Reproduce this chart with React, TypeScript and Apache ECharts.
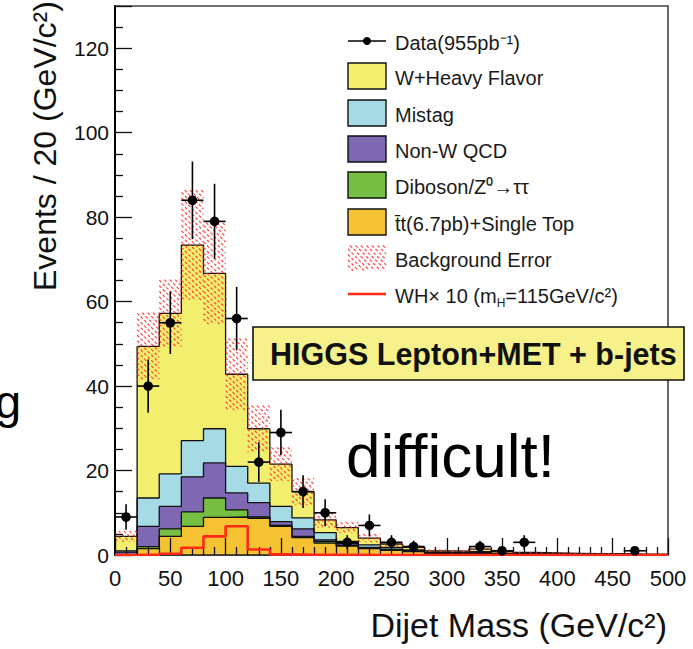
import React, { useEffect, useRef } from 'react';
import * as echarts from 'echarts';

// ---------------- data ----------------
const BIN_WIDTH = 20;
const binStart = [0, 20, 40, 60, 80, 100, 120, 140, 160, 180, 200, 220, 240, 260, 280, 300, 320, 340, 360, 380, 400, 420, 440, 460, 480];

const ttbarSingleTop = [0.05, 1.5, 4.4, 6.8, 8.9, 9.0, 8.7, 6.8, 4.1, 2.8, 2.1, 1.5, 1.1, 0.8, 0.4, 0.35, 0.45, 0.2, 0.18, 0.12, 0.1, 0.06, 0.06, 0.04, 0.04];
const dibosonZtautau = [0.05, 0.5, 1.8, 3.4, 4.6, 1.7, 0.3, 0.2, 0.3, 0.4, 0.2, 0.1, 0.1, 0.05, 0.05, 0.05, 0.05, 0.05, 0.02, 0.03, 0.02, 0.02, 0.02, 0.01, 0.01];
const nonWQCD = [0.6, 4.8, 5.3, 8.3, 8.3, 4.0, 3.4, 0.9, 1.8, 0.4, 0.4, 0.2, 0.2, 0.15, 0.1, 0.1, 0.1, 0.05, 0.05, 0.05, 0.03, 0.02, 0.02, 0.03, 0.03];
const mistag = [0.3, 6.7, 7.7, 8.6, 8.1, 6.3, 4.6, 3.6, 2.6, 1.7, 0.5, 0.6, 0.4, 0.2, 0.15, 0.1, 0.2, 0.1, 0.05, 0.05, 0.05, 0.05, 0.05, 0.02, 0.02];
const wHeavyFlavor = [3.4, 35.9, 38.0, 46.3, 36.8, 21.8, 12.9, 10.0, 6.2, 3.0, 3.3, 1.6, 0.8, 0.6, 0.3, 0.3, 0.6, 0.4, 0.3, 0.25, 0.2, 0.15, 0.15, 0.1, 0.1];
const backgroundError = [1.3, 8, 8, 13, 12, 8.5, 5.5, 4, 3.2, 1.8, 1.3, 1.0, 0.6, 0.45, 0.3, 0.25, 0.3, 0.2, 0.15, 0.12, 0.1, 0.08, 0.08, 0.06, 0.06];
const signalWHx10 = [0, 0.1, 0.3, 1.7, 4.4, 6.8, 1.3, 0.15, 0.05, 0.03, 0.02, 0.01, 0.01, 0, 0, 0, 0, 0, 0, 0, 0, 0, 0, 0, 0];
const dataCounts = [9, 40, 55, 84, 79, 56, 22, 29, 15, 10, 3, 7, 3, 2, 0, 0, 2, 1, 3, 0, 0, 0, 0, 1, 0];
const dataErrors = [3, 6.3, 7.4, 9.2, 8.9, 7.5, 4.7, 5.4, 3.9, 3.2, 1.7, 2.6, 1.7, 1.4, 0, 0, 1.4, 1, 1.7, 0, 0, 0, 0, 1, 0];

const xTickLabels = ['0', '50', '100', '150', '200', '250', '300', '350', '400', '450', '500'];
const yTickLabels = ['0', '20', '40', '60', '80', '100', '120'];

const legendLabels = [
  'Data(955pb⁻¹)',
  'W+Heavy Flavor',
  'Mistag',
  'Non-W QCD',
  'Diboson/Z⁰→ττ',
  't\u0304t(6.7pb)+Single Top',
  'Background Error',
  'WH× 10 (m{sub|H}=115GeV/c²)',
];

// ---------------- styles ----------------
const FONT = "'Liberation Sans', Arial, Helvetica, sans-serif";
const C_WHF = '#f2ee6e';
const C_MISTAG = '#a6dbe5';
const C_QCD = '#7e68b4';
const C_DIB = '#76bf42';
const C_TT = '#f4c232';
const C_HATCH = '#ff3535';
const C_SIGNAL = '#ff2a16';
const HATCH_STYLE = { stroke: C_HATCH, lineWidth: 1.2, lineDash: [3, 2], opacity: 0.9 };

function hatchSegments(x0: number, y0: number, x1: number, y1: number, gap: number) {
  const segs: { x1: number; y1: number; x2: number; y2: number }[] = [];
  if (x1 - x0 < 0.5 || y1 - y0 < 0.5) return segs;
  const cMin = y0 - x1;
  const cMax = y1 - x0;
  for (let k = Math.ceil(cMin / gap); k * gap <= cMax; k++) {
    const c = k * gap;
    const xa = Math.max(x0, y0 - c);
    const xb = Math.min(x1, y1 - c);
    if (xb - xa > 0.4) segs.push({ x1: xa, y1: xa + c, x2: xb, y2: xb + c });
  }
  return segs;
}

export default function App() {
  const ref = useRef<HTMLDivElement>(null);

  useEffect(() => {
    if (!ref.current) return;
    const chart = echarts.init(ref.current, undefined, { renderer: 'svg' });

    const layers = [ttbarSingleTop, dibosonZtautau, nonWQCD, mistag, wHeavyFlavor];
    const layerColors = [C_TT, C_DIB, C_QCD, C_MISTAG, C_WHF];
    const layerNames = ['ttbar+Single Top', 'Diboson', 'Non-W QCD', 'Mistag', 'W+Heavy Flavor'];
    const cum: number[][] = [];
    layers.forEach((arr, k) => {
      cum.push(arr.map((v, i) => v + (k > 0 ? cum[k - 1][i] : 0)));
    });
    const total = cum[cum.length - 1];
    const last = binStart[binStart.length - 1] + BIN_WIDTH;
    const stepData = (arr: number[]) =>
      binStart.map((x, i) => [x, arr[i]]).concat([[last, arr[arr.length - 1]]]);

    const stackSeries: any[] = [];
    for (let k = layers.length - 1; k >= 0; k--) {
      stackSeries.push({
        name: layerNames[k],
        type: 'line',
        step: 'end',
        data: stepData(cum[k]),
        symbol: 'none',
        showSymbol: false,
        silent: true,
        z: 2,
        lineStyle: { color: '#111', width: 1.3 },
        areaStyle: { color: layerColors[k], opacity: 1 },
      });
    }

    const hatchSeries = {
      name: 'Background Error',
      type: 'custom',
      z: 3,
      silent: true,
      data: binStart.map((x, i) => [x, x + BIN_WIDTH, Math.max(0, total[i] - backgroundError[i]), total[i] + backgroundError[i]]),
      renderItem: (params: any, api: any) => {
        const p0 = api.coord([api.value(0), api.value(3)]);
        const p1 = api.coord([api.value(1), api.value(2)]);
        const segs = hatchSegments(p0[0], p0[1], p1[0], p1[1], 5.5);
        return {
          type: 'group',
          children: segs.map((s) => ({ type: 'line', shape: s, style: HATCH_STYLE })),
        };
      },
    };

    const signalSeries = {
      name: 'WH x 10',
      type: 'line',
      step: 'end',
      data: stepData(signalWHx10),
      symbol: 'none',
      silent: true,
      z: 7,
      lineStyle: { color: C_SIGNAL, width: 2.6 },
    };

    const dataSeries = {
      name: 'Data',
      type: 'custom',
      z: 8,
      silent: true,
      data: binStart
        .map((x, i) => [x + BIN_WIDTH / 2, dataCounts[i], dataErrors[i]])
        .filter((d) => d[1] > 0),
      renderItem: (params: any, api: any) => {
        const x = api.value(0);
        const y = api.value(1);
        const e = api.value(2);
        const c = api.coord([x, y]);
        const top = api.coord([x, y + e]);
        const bot = api.coord([x, Math.max(0, y - e)]);
        const l = api.coord([x - BIN_WIDTH / 2, y]);
        const r = api.coord([x + BIN_WIDTH / 2, y]);
        return {
          type: 'group',
          children: [
            { type: 'line', shape: { x1: c[0], y1: top[1], x2: c[0], y2: bot[1] }, style: { stroke: '#000', lineWidth: 1.6 } },
            { type: 'line', shape: { x1: l[0], y1: c[1], x2: r[0], y2: c[1] }, style: { stroke: '#000', lineWidth: 1.6 } },
            { type: 'circle', shape: { cx: c[0], cy: c[1], r: 4.8 }, style: { fill: '#000' } },
          ],
        };
      },
    };

    // ---------------- legend & annotations (graphic) ----------------
    const g: any[] = [];
    const lx0 = 348;
    const lx1 = 386;
    const tx = 395;
    const rowY = [41, 76, 113, 149, 185, 222, 258, 294];
    const textStyle = (text: string, y: number, extra: any = {}) => ({
      type: 'text',
      x: tx,
      y: y + 2,
      z: 20,
      style: {
        text,
        fontFamily: FONT,
        fontSize: 20,
        fill: '#1a1a1a',
        textAlign: 'left',
        align: 'left',
        textVerticalAlign: 'middle',
        verticalAlign: 'middle',
        ...extra,
      },
    });
    // Data entry
    g.push({ type: 'line', z: 20, shape: { x1: lx0, y1: rowY[0], x2: lx1, y2: rowY[0] }, style: { stroke: '#000', lineWidth: 1.4 } });
    g.push({ type: 'circle', z: 20, shape: { cx: (lx0 + lx1) / 2, cy: rowY[0], r: 4 }, style: { fill: '#000' } });
    g.push(textStyle(legendLabels[0], rowY[0]));
    // filled boxes
    const boxColors = [C_WHF, C_MISTAG, C_QCD, C_DIB, C_TT];
    boxColors.forEach((col, j) => {
      const cy = rowY[j + 1];
      g.push({ type: 'rect', z: 20, shape: { x: lx0, y: cy - 13, width: lx1 - lx0, height: 26 }, style: { fill: col, stroke: '#111', lineWidth: 1.4 } });
      g.push(textStyle(legendLabels[j + 1], cy));
    });
    // hatch entry
    hatchSegments(lx0, rowY[6] - 12.5, lx1, rowY[6] + 12.5, 5.5).forEach((s) => {
      g.push({ type: 'line', z: 20, shape: s, style: HATCH_STYLE });
    });
    g.push(textStyle(legendLabels[6], rowY[6]));
    // signal entry
    g.push({ type: 'line', z: 20, shape: { x1: lx0, y1: rowY[7], x2: lx1, y2: rowY[7] }, style: { stroke: C_SIGNAL, lineWidth: 2.4 } });
    g.push(
      textStyle(legendLabels[7], rowY[7], {
        lineHeight: 26,
        rich: { sub: { fontFamily: FONT, fontSize: 12, lineHeight: 26, verticalAlign: 'bottom', fill: '#1a1a1a' } },
      })
    );

    // HIGGS box
    g.push({ type: 'rect', z: 21, shape: { x: 253, y: 327, width: 431, height: 53 }, style: { fill: '#f6f18a', stroke: '#111', lineWidth: 1.6 } });
    g.push({
      type: 'text', z: 22, x: 270, y: 354,
      style: { text: 'HIGGS Lepton+MET + b-jets', fontFamily: FONT, fontSize: 30.5, fontWeight: 'bold', fill: '#111', textAlign: 'left', align: 'left', textVerticalAlign: 'middle', verticalAlign: 'middle' },
    });
    // "difficult!"
    g.push({
      type: 'text', z: 22, x: 346, y: 455,
      style: { text: 'difficult!', fontFamily: FONT, fontSize: 62, fill: '#000', textAlign: 'left', align: 'left', textVerticalAlign: 'middle', verticalAlign: 'middle' },
    });
    // partial "g" at the left edge (cut off by the page edge, as in the source slide)
    g.push({
      type: 'text', z: 22, x: -5, y: 401,
      style: { text: 'g', fontFamily: FONT, fontSize: 47, fill: '#000', textAlign: 'left', align: 'left', textVerticalAlign: 'middle', verticalAlign: 'middle' },
    });
    // axis titles
    g.push({
      type: 'text', z: 22, x: 45, y: 291, rotation: Math.PI / 2,
      style: { text: 'Events / 20 (GeV/c²)', fontFamily: FONT, fontSize: 32, fill: '#111', textAlign: 'left', align: 'left', textVerticalAlign: 'middle', verticalAlign: 'middle' },
    });
    g.push({
      type: 'text', z: 22, x: 667, y: 625,
      style: { text: 'Dijet Mass (GeV/c²)', fontFamily: FONT, fontSize: 34, fill: '#111', textAlign: 'right', align: 'right', textVerticalAlign: 'middle', verticalAlign: 'middle' },
    });

    const option: any = {
      animation: false,
      backgroundColor: '#ffffff',
      grid: { left: 115, right: 25, top: 6, bottom: 94, show: true, borderColor: '#444', borderWidth: 1.6, backgroundColor: 'transparent' },
      xAxis: {
        type: 'value', min: 0, max: 500, interval: 50, z: 5,
        axisLine: { show: true, onZero: false, lineStyle: { color: '#222', width: 1.5 } },
        axisTick: { show: true, inside: true, length: 17, lineStyle: { color: '#111', width: 1.3 } },
        minorTick: { show: true, splitNumber: 5, length: 8, lineStyle: { color: '#111', width: 1.3 } },
        splitLine: { show: false },
        minorSplitLine: { show: false },
        axisLabel: {
          fontFamily: FONT, fontSize: 22, color: '#111', margin: 12,
          formatter: (v: number) => xTickLabels[Math.round(v / 50)] ?? '',
        },
      },
      yAxis: {
        type: 'value', min: 0, max: 130, interval: 20, z: 5,
        axisLine: { show: true, onZero: false, lineStyle: { color: '#000', width: 2 } },
        axisTick: { show: true, inside: true, length: 17, lineStyle: { color: '#111', width: 1.3 } },
        minorTick: { show: true, splitNumber: 4, length: 8, lineStyle: { color: '#111', width: 1.3 } },
        splitLine: { show: false },
        minorSplitLine: { show: false },
        axisLabel: {
          fontFamily: FONT, fontSize: 21, color: '#111', margin: 6, showMaxLabel: false,
          formatter: (v: number) => (v % 20 === 0 ? yTickLabels[v / 20] ?? '' : ''),
        },
      },
      series: [...stackSeries, hatchSeries, signalSeries, dataSeries],
      graphic: { elements: g },
    };

    chart.setOption(option);
    return () => chart.dispose();
  }, []);

  return <div ref={ref} style={{ position: 'absolute', left: 0, top: 0, width: 693, height: 649 }} />;
}
